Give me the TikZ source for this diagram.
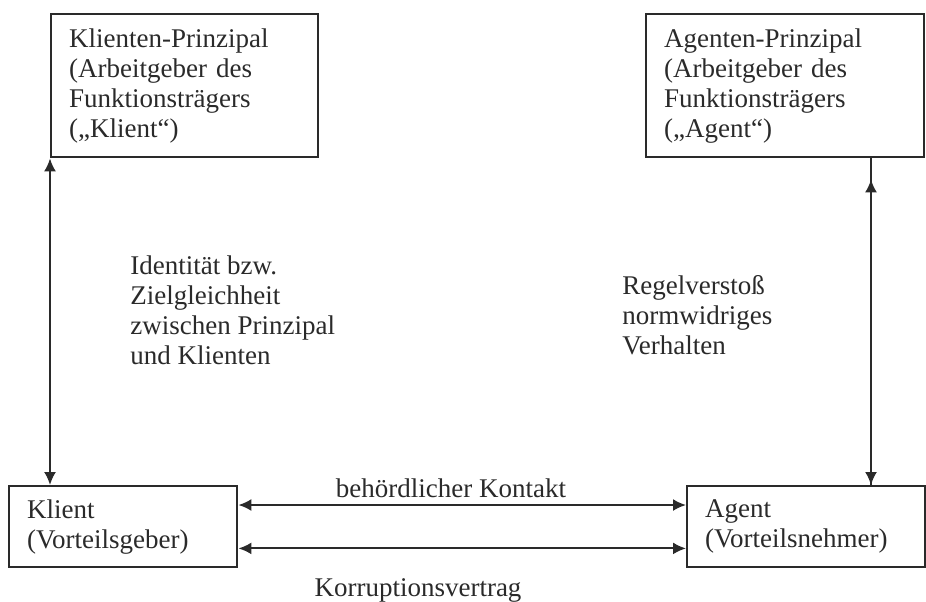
\documentclass[tikz,border=0pt]{standalone}
\usepackage{fontspec}
\setmainfont{Liberation Serif}
\usetikzlibrary{positioning,arrows.meta,calc}
\definecolor{ink}{HTML}{2A2A2A}
\tikzset{
  txt/.style={
    font=\fontsize{13.5}{15}\selectfont,
    text=ink,
    align=left
  },
  box/.style={
    txt,
    draw=ink,
    line width=1.2pt,
    inner xsep=9pt,
    inner ysep=0pt,
    anchor=north west
  },
  lbl/.style={
    txt,
    inner sep=0pt
  },
  line/.style={
    draw=ink,
    line width=1pt
  },
  conn/.style={
    line,
    {Latex[length=6.5pt,width=6pt]}-{Latex[length=6.5pt,width=6pt]}
  }
}

\begin{document}
\begin{tikzpicture}[x=0.5pt,y=-0.5pt]
    \useasboundingbox (0,0) rectangle (926,601);
    \node [box, text width=115.5pt, minimum height=71.5pt] (KP) at (50,13)
      {Klienten-Prinzipal\\(Arbeitgeber des\\Funktionsträgers\\(„Klient“)};
    \node [box, text width=121pt, minimum height=71.5pt] (AP) at (645,13)
      {Agenten-Prinzipal\\(Arbeitgeber des\\Funktionsträgers\\(„Agent“)};
    \node [box, text width=96pt, minimum height=40.5pt] (Kl) at (8,485)
      {Klient\\(Vorteilsgeber)};
    \node [box, text width=101pt, minimum height=40.5pt] (Ag) at (686,485)
      {Agent\\(Vorteilsnehmer)};
    \node [lbl, anchor=west] (Ident) at (130,310)
      {Identität bzw.\\Zielgleichheit\\zwischen Prinzipal\\und Klienten};
    \node [lbl, anchor=west] (Regel) at (622,315)
      {Regelverstoß\\normwidriges\\Verhalten};
    \node [lbl] (Kontakt) at (451,488) {behördlicher Kontakt};
    \node [lbl] (Vertrag) at (418,590) {Korruptionsvertrag};
    \coordinate (rx) at (871,0);
    % left: principal and client
    \draw [conn] (KP.south west) -- (KP.south west |- Kl.north);
    % right: agent and his principal
    \draw [line, -{Latex[length=6.5pt,width=6pt]}] (rx |- AP.south) -- (rx |- Ag.north);
    \draw [line, -{Latex[length=6.5pt,width=6pt]}] (rx |- Ag.north) -- ($(rx |- AP.south)+(0,21)$);
    % between client and agent
    \draw [conn] ([yshift=-10pt]Kl.north east) -- ([yshift=-10pt]Kl.north east -| Ag.west);
    \draw [conn] ([yshift=10pt]Kl.south east) -- ([yshift=10pt]Kl.south east -| Ag.west);
\end{tikzpicture}
\end{document}
